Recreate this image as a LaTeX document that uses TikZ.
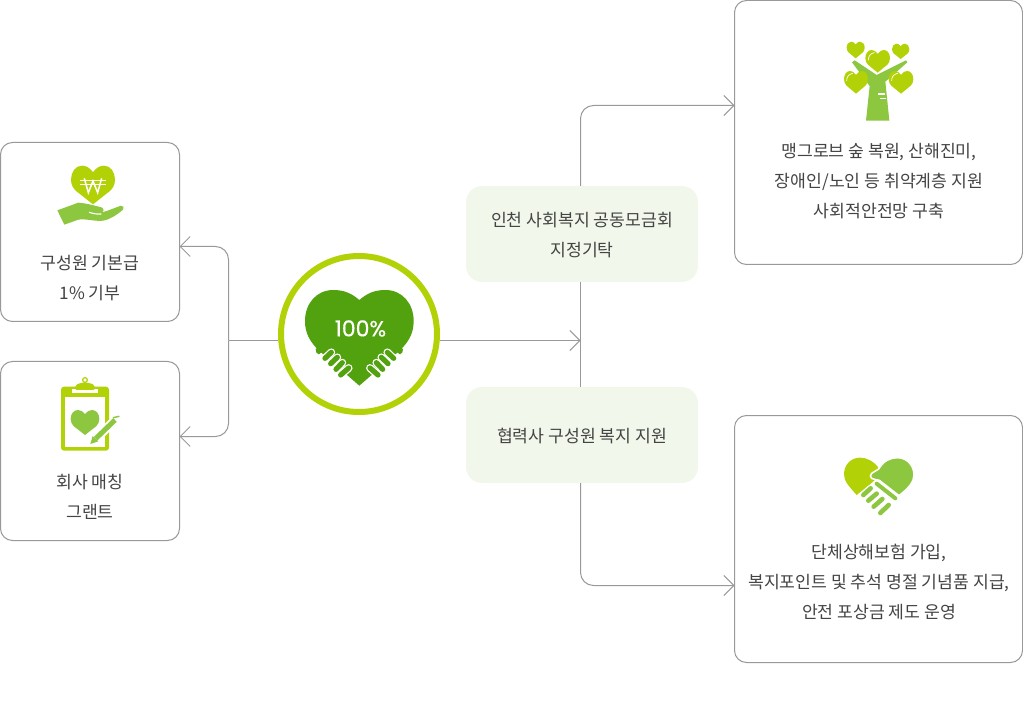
\documentclass[tikz,border=0pt]{standalone}
\usepackage{fontspec}
\usetikzlibrary{arrows.meta}
\setmainfont{Noto Sans CJK KR}
\newfontfamily\numfont[FakeBold=0.5]{Poppins}
\definecolor{lime}{HTML}{B2D106}
\definecolor{leaf}{HTML}{8DC63F}
\definecolor{deep}{HTML}{52A20F}
\definecolor{linec}{HTML}{999999}
\definecolor{txt}{HTML}{444444}
\definecolor{pale}{HTML}{F2F7EC}
\tikzset{
  card/.style={draw=linec,line width=1pt,fill=white,rounded corners=12pt,inner sep=0pt,outer sep=0pt,anchor=north west},
  tag/.style={fill=pale,rounded corners=16pt,inner sep=0pt,outer sep=0pt},
  tagtext/.style={text=txt,align=center,inner sep=0pt,font=\fontsize{17.2}{30}\selectfont},
  lbl/.style={text=txt,align=center,inner sep=0pt,font=\fontsize{17.2}{30}\selectfont},
  link/.style={draw=linec,line width=1pt},
  tipped/.style={link,-{Straight Barb[length=10pt,width=20pt]},rounded corners=13pt},
}
% centre x, top y, half width, height, colour
\newcommand\myheart[5]{%
  \begin{scope}[shift={(#1,#2)},xscale=#3,yscale=#4]
    \fill[#5] (0,.17) .. controls (-.15,.05) and (-.32,0) .. (-.5,0)
      .. controls (-.8,0) and (-1,.17) .. (-1,.36)
      .. controls (-1,.5) and (-.9,.58) .. (-.78,.65) -- (0,1)
      -- (.78,.65) .. controls (.9,.58) and (1,.5) .. (1,.36)
      .. controls (1,.17) and (.8,0) .. (.5,0)
      .. controls (.32,0) and (.15,.05) .. (0,.17) -- cycle;
  \end{scope}}
\begin{document}
\begin{tikzpicture}[x=1pt,y=-1pt]
\useasboundingbox (0,0) rectangle (1023,711);
% boxes
\node[card,minimum width=179pt,minimum height=179pt] (lb1) at (.5,142.5) {};
\node[card,minimum width=179pt,minimum height=179pt] (lb2) at (.5,361.5) {};
\node[card,minimum width=288pt,minimum height=264pt] (rb1) at (734.5,.5) {};
\node[card,minimum width=288pt,minimum height=247pt] (rb2) at (734.5,415.5) {};
\node[tag,minimum width=232pt,minimum height=96pt] (g1) at (582,234) {};
\node[tag,minimum width=232pt,minimum height=96pt] (g2) at (582,435) {};
\node[circle,draw=lime,line width=6pt,fill=white,minimum size=156pt,inner sep=0pt] (hub) at (359,334) {};
% connector joints
\coordinate (jl) at (228.5,340.5);
\coordinate (jt) at (228.5,246.5);
\coordinate (jb) at (228.5,436.5);
\coordinate (bus) at (580.5,340.5);
\coordinate (rt) at (580.5,105.5);
\coordinate (rd) at (580.5,585.5);
% connectors
\draw[tipped] (jl) -- (jt) -- (lb1.east |- jt);
\draw[tipped] (jl) -- (jb) -- (lb2.east |- jb);
\draw[link] (hub.184 |- jl) -- (jl);
\draw[link,-{Straight Barb[length=10pt,width=20pt]}] (hub.-4 |- bus) -- (bus);
\draw[tipped] (g1.north -| bus) -- (rt) -- (rb1.west |- rt);
\draw[tipped] (g2.south -| bus) -- (rd) -- (rb2.west |- rd);
\draw[link] (g1.south -| bus) -- (g2.north -| bus);
% labels
\node[tagtext] (tg1) at (582,235) {인천 사회복지 공동모금회\\지정기탁};
\node[tagtext] (tg2) at (582,436) {협력사 구성원 복지 지원};
\node[lbl] (t1) at (90,278) {구성원 기본급\\1\% 기부};
\node[lbl] (t2) at (90,497) {회사 매칭\\그랜트};
\node[lbl] (t3) at (879,181) {맹그로브 숲 복원, 산해진미,\\장애인/노인 등 취약계층 지원\\사회적안전망 구축};
\node[lbl] (t4) at (879,582) {단체상해보험 가입,\\복지포인트 및 추석 명절 기념품 지급,\\안전 포상금 제도 운영};
% hub icon
\begin{scope}[shift={(270,245)},scale=.33333]
  \fill[deep] (268,165) .. controls (245,145) and (222,135) .. (190,135)
    .. controls (140,135) and (105,175) .. (105,228)
    .. controls (105,265) and (120,290) .. (145,315) -- (268,422) -- (391,315)
    .. controls (416,290) and (431,265) .. (431,228)
    .. controls (431,175) and (396,135) .. (346,135)
    .. controls (314,135) and (291,145) .. (268,165) -- cycle;
  \fill[deep] (137,312) -- (150,304) -- (158,320) -- (146,328) .. controls (140,326) and (136,320) .. (137,312) -- cycle;
  \fill[deep] (399,312) -- (386,304) -- (378,320) -- (390,328) .. controls (396,326) and (400,320) .. (399,312) -- cycle;
  \foreach \ex/\ey/\sx/\sy in {165/340/184/322, 182/356/202/337, 198/373/217/353, 212/390/236/369}{
    \draw[white,line width=7.8pt,line cap=round] (\sx,\sy) -- (\ex,\ey);
    \draw[white,line width=7.8pt,line cap=round] (536-\sx,\sy) -- (536-\ex,\ey);
  }
  \foreach \ex/\ey/\sx/\sy in {165/340/184/322, 182/356/202/337, 198/373/217/353, 212/390/236/369}{
    \draw[deep,line width=5.2pt,line cap=round] (\sx,\sy) -- (\ex,\ey);
    \draw[deep,line width=5.2pt,line cap=round] (536-\sx,\sy) -- (536-\ex,\ey);
  }
\end{scope}
\node[text=white,inner sep=0pt,font=\numfont\fontsize{22}{22}\selectfont] (pct) at (360.5,328.5) {100\%};
% tree icon
\begin{scope}[shift={(830,30)},scale=.33333]
  \fill[leaf] (108,272) -- (119,168) -- (66,97) -- (74,91) -- (140,135) -- (228,91) -- (232,97) -- (166,155) -- (178,272) -- cycle;
  \draw[white,line width=1.2pt] (145,192) -- (165,192) (150,205) -- (168,205);
  \myheart{77}{35}{27}{50}{lime}
  \myheart{212}{41}{26}{46}{lime}
  \myheart{143}{60}{37}{68}{lime}
  \myheart{78}{123}{36}{68}{lime}
  \myheart{213}{123}{37}{68}{lime}
  \draw[white,line width=.7pt,line cap=round] (115,90) .. controls (115,78) and (122,70) .. (133,68);
  \draw[white,line width=.7pt,line cap=round] (50,152) .. controls (50,140) and (57,132) .. (68,130);
  \draw[white,line width=.7pt,line cap=round] (185,152) .. controls (185,140) and (192,132) .. (203,130);
\end{scope}
% handshake icon
\begin{scope}[shift={(830,445)},scale=.33333]
  \fill[lime] (145,68) .. controls (130,48) and (110,38) .. (90,38)
    .. controls (62,38) and (42,60) .. (42,88)
    .. controls (42,108) and (55,122) .. (80,150) -- (120,118) -- (140,100) -- cycle;
  \filldraw[leaf,draw=white,line width=1.6pt] (146,72) .. controls (160,48) and (180,38) .. (202,38)
    .. controls (232,38) and (252,62) .. (252,90)
    .. controls (252,112) and (235,130) .. (207,152)
    -- (148,106) .. controls (140,102) and (132,106) .. (125,100)
    .. controls (120,96) and (120,90) .. (125,85) -- cycle;
  \draw[white,line width=6.5pt,line cap=round] (140,116) -- (196,160);
  \draw[leaf,line width=4pt,line cap=round] (140,116) -- (196,160);
  \foreach \sx/\sy/\ex/\ey in {122/130/100/150, 140/146/115/167, 157/162/131/185, 176/180/151/204}{
    \draw[white,line width=7pt,line cap=round] (\sx,\sy) -- (\ex,\ey);
    \draw[leaf,line width=4.6pt,line cap=round] (\sx,\sy) -- (\ex,\ey);
  }
\end{scope}
% won icon
\begin{scope}[shift={(45,155)},scale=.33333]
  \myheart{144}{32}{66}{116}{lime}
  \draw[white,line width=1.5pt] (118,70) -- (130,113) -- (144,78) -- (158,113) -- (170,70);
  \draw[white,line width=1.3pt] (106,76) -- (182,76) (106,89) -- (182,89);
  \fill[leaf] (37,166) -- (100,143) .. controls (125,145) and (150,152) .. (172,158)
    .. controls (178,165) and (176,170) .. (170,172) -- (185,168) -- (228,152)
    .. controls (236,152) and (238,158) .. (234,164)
    .. controls (215,180) and (198,192) .. (175,197)
    .. controls (150,200) and (120,190) .. (100,194) -- (58,209) -- cycle;
  \draw[white,line width=1.1pt,line cap=round] (133,172) .. controls (145,176) and (155,178) .. (168,177);
\end{scope}
% clipboard icon
\begin{scope}[shift={(45,370)},scale=.33333]
  \fill[lime,rounded corners=3pt] (48,50) rectangle (192,242);
  \fill[white] (60,82) rectangle (180,230);
  \draw[white,line width=4pt] (82,62) -- (158,62);
  \fill[lime,rounded corners=2pt] (90,60) -- (90,46) -- (108,38) -- (132,38) -- (150,46) -- (150,60) -- cycle;
  \draw[lime,line width=1.2pt] (120,30) circle (7);
  \myheart{120}{120}{43}{75}{leaf}
  \draw[white,line width=9pt,line cap=round] (150,208) -- (213,148);
  \draw[leaf,line width=5pt] (152,206) -- (210,150);
  \fill[leaf] (136,222) -- (143,198) -- (160,214) -- cycle;
  \draw[leaf,line width=1.4pt,line cap=round] (205,143) -- (222,139);
\end{scope}
\end{tikzpicture}
\end{document}
